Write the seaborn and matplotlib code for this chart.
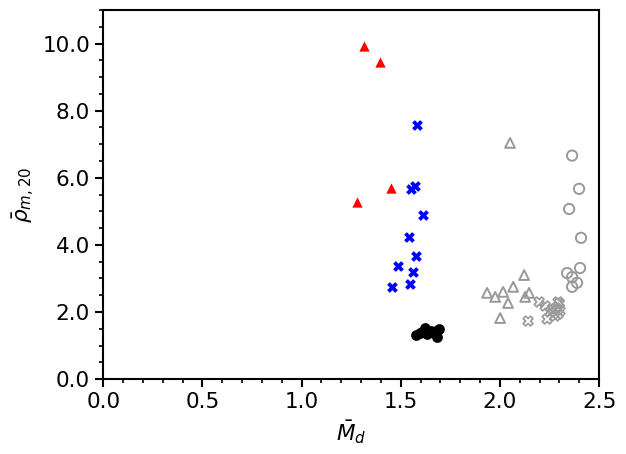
import matplotlib
matplotlib.use('Agg')
import matplotlib.pyplot as plt
import numpy as np
import pandas as pd
import seaborn as sns
from matplotlib.ticker import MultipleLocator, FormatStrFormatter

# red filled triangles
red_x = [1.316, 1.396, 1.452, 1.280]
red_y = [9.94, 9.46, 5.70, 5.28]

# blue filled X
blue_x = [1.583, 1.552, 1.570, 1.613, 1.542, 1.578, 1.487, 1.563, 1.548, 1.457]
blue_y = [7.58, 5.67, 5.75, 4.90, 4.24, 3.67, 3.37, 3.19, 2.84, 2.75]

# black filled circles
black_x = [1.578, 1.598, 1.608, 1.623, 1.633, 1.653, 1.668, 1.680, 1.683, 1.694]
black_y = [1.31, 1.37, 1.40, 1.52, 1.34, 1.43, 1.37, 1.43, 1.25, 1.49]

# gray open triangles
gtri_x = [2.051, 2.122, 2.067, 2.016, 1.935, 1.976, 2.041, 2.147, 2.127, 2.001]
gtri_y = [7.04, 3.10, 2.75, 2.60, 2.57, 2.45, 2.27, 2.57, 2.45, 1.82]

# gray open circles
gcir_x = [2.364, 2.399, 2.349, 2.409, 2.404, 2.339, 2.364, 2.389, 2.364]
gcir_y = [6.66, 5.67, 5.07, 4.21, 3.31, 3.16, 3.04, 2.87, 2.75]

# gray open X
gx_x = [2.142, 2.198, 2.293, 2.228, 2.253, 2.283, 2.303, 2.278, 2.238, 2.293, 2.268, 2.300]
gx_y = [1.73, 2.30, 2.30, 2.18, 2.00, 2.12, 2.03, 1.88, 1.79, 1.94, 2.06, 2.26]

fig, ax = plt.subplots(figsize=(6.26, 4.54), dpi=100)
fig.subplots_adjust(left=0.165, right=0.957, top=0.978, bottom=0.165)

gray = '#999999'
sns.scatterplot(x=red_x, y=red_y, marker='^', color='red', s=55, linewidth=0, ax=ax)
sns.scatterplot(x=blue_x, y=blue_y, marker='X', color='blue', s=60, linewidth=0, ax=ax)
sns.scatterplot(x=black_x, y=black_y, marker='o', color='black', s=60, linewidth=0, ax=ax)
sns.scatterplot(x=gtri_x, y=gtri_y, marker='^', facecolor='none', edgecolor=gray, s=50, linewidth=1.4, ax=ax)
sns.scatterplot(x=gcir_x, y=gcir_y, marker='o', facecolor='none', edgecolor=gray, s=55, linewidth=1.4, ax=ax)
sns.scatterplot(x=gx_x, y=gx_y, marker='X', facecolor='none', edgecolor=gray, s=50, linewidth=1.2, ax=ax)

ax.set_xlim(0, 2.5)
ax.set_ylim(0, 11)
ax.xaxis.set_major_locator(MultipleLocator(0.5))
ax.xaxis.set_minor_locator(MultipleLocator(0.1))
ax.yaxis.set_major_locator(MultipleLocator(2.0))
ax.yaxis.set_minor_locator(MultipleLocator(0.5))
ax.xaxis.set_major_formatter(FormatStrFormatter('%.1f'))
ax.yaxis.set_major_formatter(FormatStrFormatter('%.1f'))
ax.tick_params(which='major', length=6, width=1.5, labelsize=15.5)
ax.tick_params(which='minor', length=3, width=1.2)
for sp in ax.spines.values():
    sp.set_linewidth(1.5)

ax.set_xlabel(r'$\bar{M}_d$', fontsize=15.5)
ax.set_ylabel(r'$\bar{\rho}_{m,20}$', fontsize=15.5)

plt.savefig('out.png', dpi=100)
